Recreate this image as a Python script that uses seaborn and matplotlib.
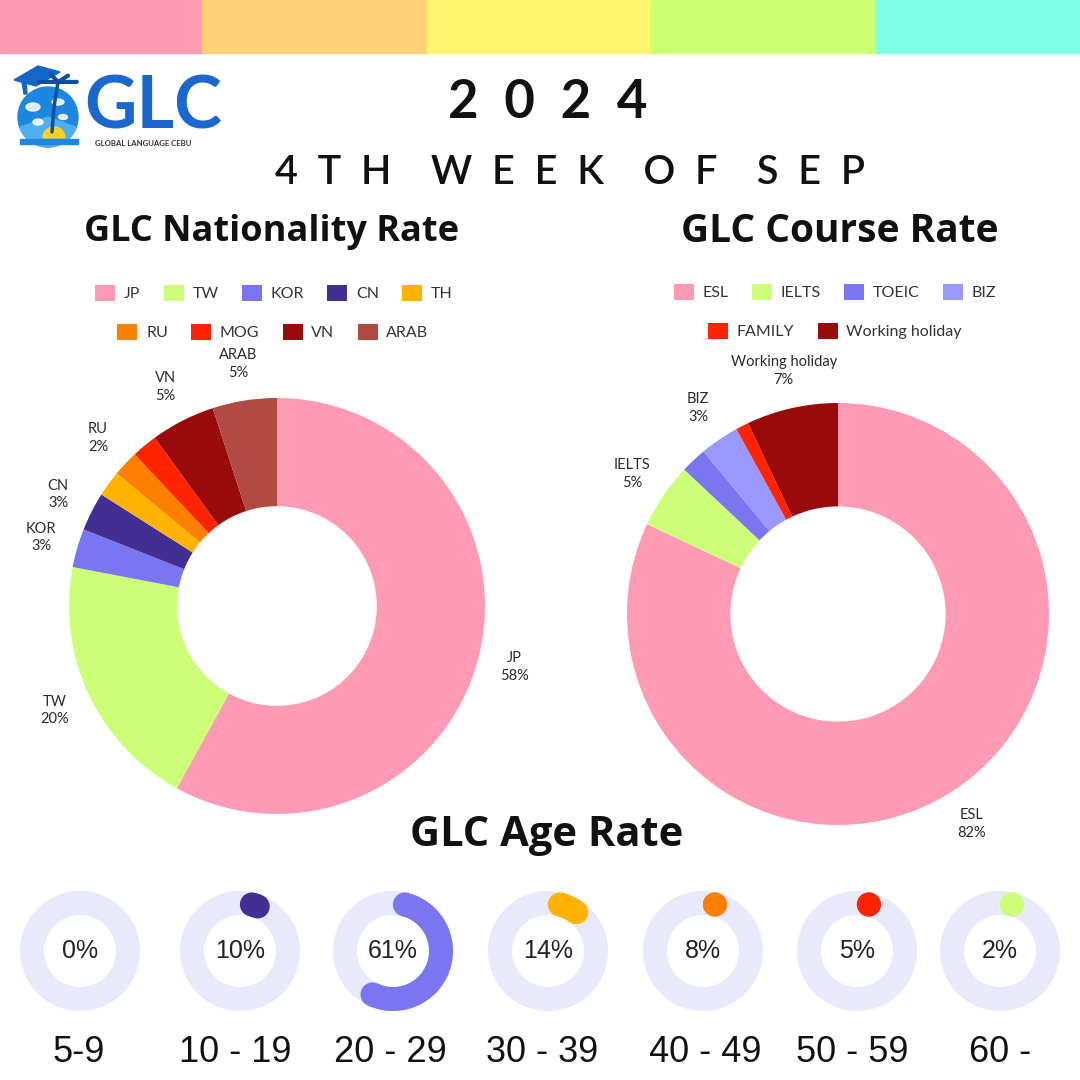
import numpy as np
import matplotlib
matplotlib.use("Agg")
import matplotlib.pyplot as plt
import seaborn as sns
from matplotlib.patches import Patch, Rectangle, Circle, Wedge, Polygon, Ellipse

# ---------------- data ----------------
nat_labels = ["JP", "TW", "KOR", "CN", "TH", "RU", "MOG", "VN", "ARAB"]
nat_values = [58, 20, 3, 3, 2, 2, 2, 5, 5]
nat_colors = ["#ff9ab4", "#ccff77", "#7a75f0", "#432f93", "#ffb300",
              "#ff7f00", "#ff2300", "#990b0b", "#b04a42"]
nat_hidden = ["TH", "MOG"]

course_labels = ["ESL", "IELTS", "TOEIC", "BIZ", "FAMILY", "Working holiday"]
course_values = [82, 5, 2, 3, 1, 7]
course_colors = ["#ff9ab4", "#ccff77", "#7a75f0", "#9a97ff", "#ff2300", "#990b0b"]
course_hidden = ["TOEIC", "FAMILY"]

age_groups = ["5-9", "10 - 19", "20 - 29", "30 - 39", "40 - 49", "50 - 59", "60 -"]
age_values = [0, 10, 61, 14, 8, 5, 2]
age_colors = ["#ff9ab4", "#432f93", "#7a75f0", "#ffb300", "#ff7f00", "#ff2300", "#ccff77"]

banner_colors = ["#ff9ab4", "#ffd277", "#fff56e", "#ccff74", "#80ffe8"]

title_year = "2  0  2  4"
title_week = "4  T  H    W  E  E  K    O  F    S  E  P"

# ---------------- setup ----------------
sns.set_theme(style="white")
plt.rcParams['font.family'] = ['Lato', 'DejaVu Sans']

W = H = 1080
fig = plt.figure(figsize=(10.8, 10.8), dpi=100)
fig.patch.set_facecolor("white")


def fx(px):
    return px / W


def fy(py):
    return 1 - py / H


# top banner
edges = [0, 202, 427, 651, 876, 1080]
for i, c in enumerate(banner_colors):
    fig.patches.append(Rectangle((fx(edges[i]), fy(53)), fx(edges[i + 1] - edges[i]), 53 / H,
                                 transform=fig.transFigure, color=c, zorder=0))

# ---------------- logo ----------------
lax = fig.add_axes([fx(8), fy(152), fx(84), 92 / H])
lax.set_xlim(0, 84)
lax.set_ylim(0, 92)
lax.set_aspect("equal")
lax.axis("off")
lax.add_patch(Circle((40, 35), 30, color="#1d86de"))
lax.add_patch(Wedge((40, 35), 30, 200, 340, color="#4fb0f0"))
for (ex, ey, ew, eh) in [(25, 45, 14, 8), (50, 50, 12, 6), (30, 30, 10, 6), (55, 35, 9, 5)]:
    lax.add_patch(Ellipse((ex, ey), ew, eh, color="white", alpha=0.85))
lax.add_patch(Wedge((46, 14), 11, 0, 180, color="#ffd21f"))
lax.add_patch(Rectangle((12, 8), 58, 5, color="#1d86de"))
lax.add_patch(Polygon([[6, 72], [30, 86], [52, 80], [28, 66]], color="#1466c8"))
lax.add_patch(Polygon([[14, 70], [16, 58], [19, 58], [18, 70]], color="#1466c8"))
lax.plot([44, 46, 50], [20, 45, 70], color="#0d4fa0", lw=2.5, solid_capstyle="round")
for ang in [20, 60, 110, 160]:
    t = np.deg2rad(ang)
    lax.plot([50, 50 + 20 * np.cos(t)], [70, 70 + 12 * np.sin(t) - 4], color="#0d4fa0", lw=3,
             solid_capstyle="round")

fig.text(fx(84), fy(108), "GLC", color="#1a68cf", fontsize=52, fontweight="bold",
         ha="left", va="center")
fig.text(fx(95), fy(144), "GLOBAL LANGUAGE CEBU", color="#333333", fontsize=5.6,
         fontweight="bold", ha="left", va="center")

# ---------------- titles ----------------
fig.text(fx(548), fy(103), title_year, fontsize=38, fontweight="bold", ha="center", va="center",
         color="#111111")
fig.text(fx(570), fy(172), title_week, fontsize=28.5, fontweight="semibold", ha="center",
         va="center", color="#111111")

tfam = ["Open Sans", "DejaVu Sans"]
fig.text(fx(272), fy(232), "GLC Nationality Rate", fontsize=26, fontweight="bold",
         ha="center", va="center", color="#111111", family=tfam)
fig.text(fx(840), fy(232), "GLC Course Rate", fontsize=28, fontweight="bold",
         ha="center", va="center", color="#111111", family=tfam)
fig.text(fx(547), fy(835), "GLC Age Rate", fontsize=30, fontweight="bold",
         ha="center", va="center", color="#111111", family=tfam)


# ---------------- legends ----------------
def legend_row(labels, colors, cx, cy):
    handles = [Patch(facecolor=c, edgecolor="none", label=l) for l, c in zip(labels, colors)]
    fig.legend(handles=handles, loc="center", bbox_to_anchor=(fx(cx), fy(cy)),
               ncol=len(handles), frameon=False, fontsize=11.5, handlelength=1.25,
               handleheight=1.25, handletextpad=0.55, columnspacing=1.45,
               labelcolor="#333333", borderpad=0, borderaxespad=0)


legend_row(nat_labels[:5], nat_colors[:5], 274, 293)
legend_row(nat_labels[5:], nat_colors[5:], 273, 332)
legend_row(course_labels[:4], course_colors[:4], 835, 292)
legend_row(course_labels[4:], course_colors[4:], 835, 331)


# ---------------- donuts ----------------
def donut(cx, cy, R, values, labels, colors, hidden, inner):
    L = 1.3
    ax = fig.add_axes([fx(cx - L * R), fy(cy + L * R), 2 * L * R / W, 2 * L * R / H])
    ax.patch.set_visible(False)
    texts_in = [("" if l in hidden else f"{l}\n{v}%") for l, v in zip(labels, values)]
    wedges, texts = ax.pie(values, labels=texts_in, colors=colors, startangle=90,
                           counterclock=False, radius=1, labeldistance=1.18,
                           wedgeprops=dict(width=1 - inner, linewidth=0),
                           textprops=dict(fontsize=10.5, color="#2a2a2a"))
    for t in texts:
        t.set_ha("center")
        t.set_va("center")
        t.set_linespacing(1.35)
    ax.set_xlim(-L, L)
    ax.set_ylim(-L, L)
    ax.axis("off")


donut(277, 606, 208, nat_values, nat_labels, nat_colors, nat_hidden, 0.48)
donut(838, 614, 211, course_values, course_labels, course_colors, course_hidden, 0.51)

# ---------------- age rings ----------------
age_cx = [80, 240, 393, 548, 703, 857, 1000]
age_cy = 951
Rr = 60
ring_w = 0.4
mid_r = 1 - ring_w / 2
cap = (ring_w / 2) / mid_r
lw_pt = ring_w * Rr * 72 / 100

for cx, grp, v, c in zip(age_cx, age_groups, age_values, age_colors):
    L = 1.1
    ax = fig.add_axes([fx(cx - L * Rr), fy(age_cy + L * Rr), 2 * L * Rr / W, 2 * L * Rr / H])
    ax.patch.set_visible(False)
    ax.pie([1], colors=["#e9e9fc"], radius=1, wedgeprops=dict(width=ring_w, linewidth=0))
    if v > 0:
        t0 = cap
        t1 = max(cap, v / 100 * 2 * np.pi - cap)
        th = np.linspace(t0, t1, 100)
        ax.plot(mid_r * np.sin(th), mid_r * np.cos(th), color=c, lw=lw_pt,
                solid_capstyle="butt")
        ax.scatter([mid_r * np.sin(t0), mid_r * np.sin(t1)],
                   [mid_r * np.cos(t0), mid_r * np.cos(t1)],
                   s=lw_pt ** 2, color=c, edgecolors="none", zorder=3)
    ax.text(0, 0, f"{v}%", ha="center", va="center", fontsize=18, color="#222222",
            family=["Liberation Sans", "DejaVu Sans"])
    ax.set_xlim(-L, L)
    ax.set_ylim(-L, L)
    ax.set_aspect("equal")
    ax.axis("off")

age_label_x = [79, 235, 390, 542, 705, 852, 1000]
for x, g in zip(age_label_x, age_groups):
    fig.text(fx(x), fy(1052), g, fontsize=26, ha="center", va="center", color="#111111",
             family=["Liberation Sans", "DejaVu Sans"])

fig.savefig("out.png", dpi=100, facecolor="white")
